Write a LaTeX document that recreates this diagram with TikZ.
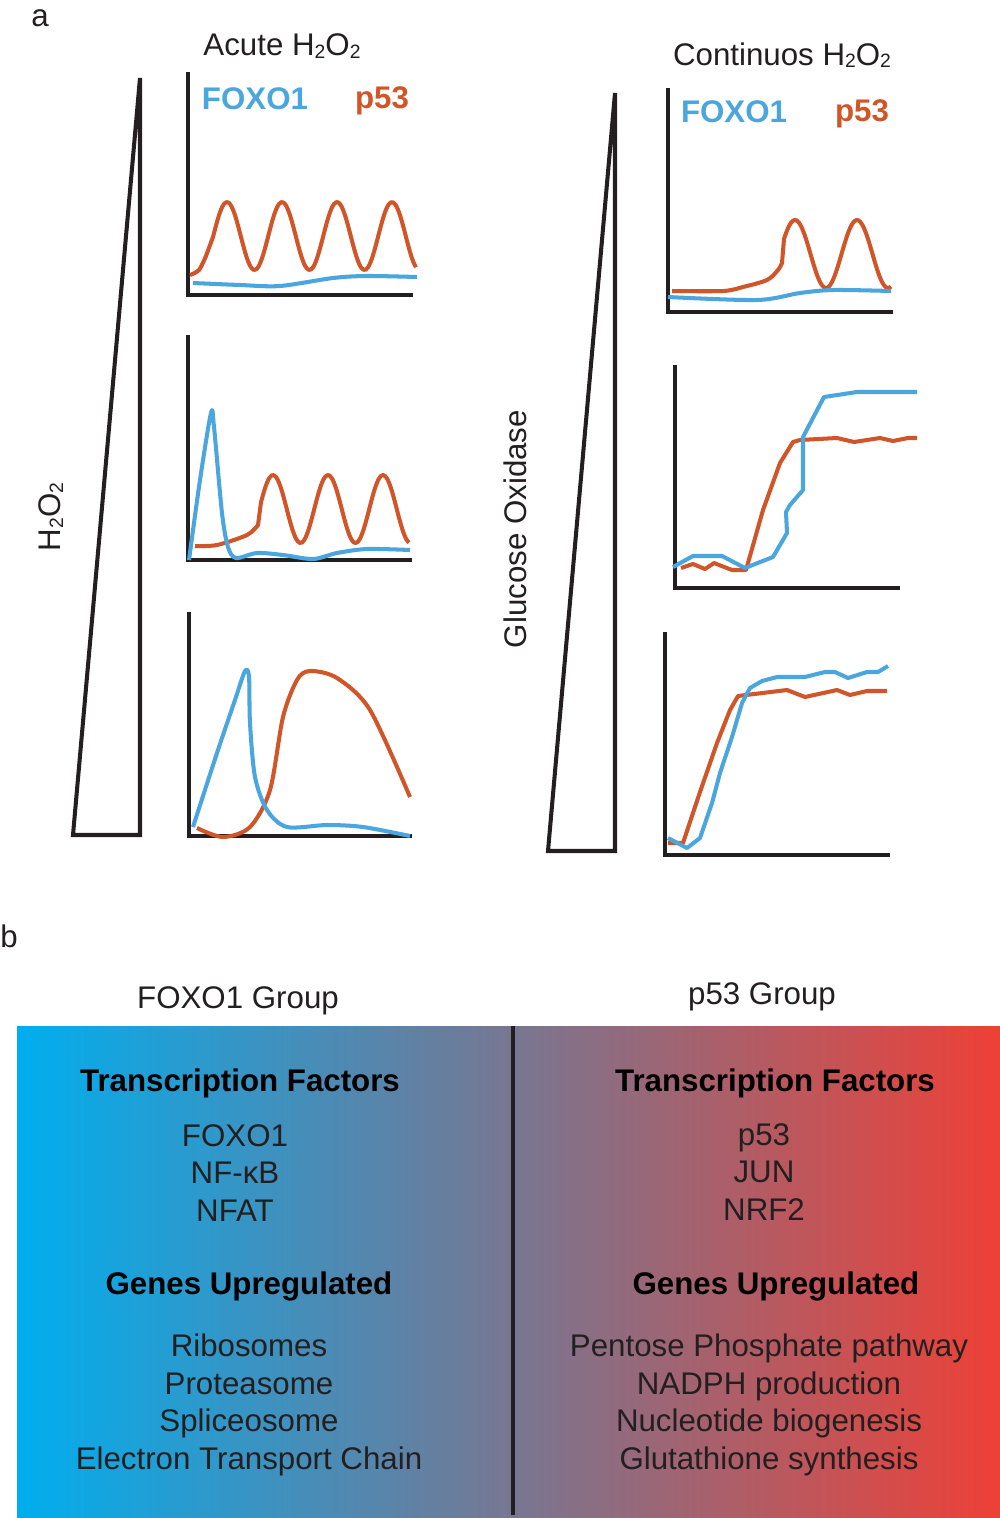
\documentclass[tikz,border=0pt]{standalone}
\usepackage{fontspec}
\setmainfont{Liberation Sans}
\definecolor{foxoblue}{HTML}{4BA6DD}
\definecolor{pred}{HTML}{D05528}
\definecolor{gradleft}{HTML}{00AEEF}
\definecolor{gradright}{HTML}{EE4036}
\definecolor{inkgray}{HTML}{231F20}
\newcommand{\figfont}{\fontsize{17.8}{21.3}\selectfont}
\newcommand{\lowtwo}{\raisebox{-0.15ex}{\fontsize{11}{11}\selectfont 2}}
\tikzset{
    axisline/.style={line width=2.3pt, inkgray, line join=miter},
    wedge/.style={line width=2.3pt, inkgray},
    foxocurve/.style={line width=2.3pt, foxoblue, line join=round},
    pcurve/.style={line width=2.3pt, pred, line join=round},
    foxolbl/.style={text=foxoblue, font=\figfont\bfseries},
    plbl/.style={text=pred, font=\figfont\bfseries},
    plainlbl/.style={text=inkgray, font=\figfont},
    headlbl/.style={text=black, font=\figfont\bfseries},
    listlbl/.style={text=inkgray, font=\figfont, align=center}
}
\begin{document}
\begin{tikzpicture}[x=0.02cm, y=-0.02cm]
    \useasboundingbox (0,0) rectangle (1000,1518);

    \node[plainlbl] (lbla) at (40,18) {a};
    \node[plainlbl] (lblb) at (9,936) {b};

    % acute panel
    \node[plainlbl] (acute) at (282,46) {Acute H\lowtwo O\lowtwo};
    \draw[wedge] (73,835) -- (140,78) -- (140,835) -- cycle;
    \node[plainlbl, rotate=90] (hydro) at (51,517) {H\lowtwo O\lowtwo};

    \draw[axisline] (188,72) -- (188,295) -- (413,295);
    \node[foxolbl] (foxoA) at (255,99) {FOXO1};
    \node[plbl] (pA) at (382,101) {p53};
    \draw[pcurve] plot[smooth] coordinates {(190,275) (199,270) (206,256)}
        -- plot[domain=213:416, samples=90, smooth] (\x,{236-34*cos((\x-227)*6.5455)});
    \draw[foxocurve] plot[smooth] coordinates {(193,283) (240,285) (280,286) (333,278)
        (367,276) (417,277)};

    \draw[axisline] (188,335) -- (188,560) -- (412,560);
    \draw[pcurve] plot[smooth] coordinates {(195,546) (217,545) (247,535) (258,525)}
        -- plot[domain=261:409, samples=70, smooth] (\x,{509-34*cos((\x-273)*6.5455)});
    \draw[foxocurve] plot[smooth, tension=0.5] coordinates {(189,560) (200,480) (211,413)
        (214,427) (222,513) (228,547) (236,558) (257,553) (283,555) (313,559) (337,553)
        (367,549) (410,550)};

    \draw[axisline] (189,612) -- (189,836) -- (412,836);
    \draw[pcurve] plot[smooth] coordinates {(197,828) (223,837) (250,827) (270,790)
        (283,717) (297,680) (310,671) (337,678) (370,710) (410,797)};
    \draw[foxocurve] plot[smooth, tension=0.5] coordinates {(193,827) (217,753) (235,700)
        (245,671) (249,677) (250,723) (255,777) (267,810) (287,827) (327,825) (363,827)
        (410,836)};

    % continuous panel
    \node[plainlbl] (contin) at (782,55) {Continuos H\lowtwo O\lowtwo};
    \draw[wedge] (548,851) -- (615,93) -- (615,851) -- cycle;
    \node[plainlbl, rotate=90] (gox) at (515,529) {Glucose Oxidase};

    \draw[axisline] (668,88) -- (668,312) -- (893,312);
    \node[foxolbl] (foxoC) at (734,112) {FOXO1};
    \node[plbl] (pC) at (862,114) {p53};
    \draw[pcurve] plot[smooth] coordinates {(672,291) (723,291) (743,287) (767,280)
        (778,270) (782,263)}
        -- plot[domain=784:891, samples=60, smooth] (\x,{254-34*cos((\x-795)*5.8065)});
    \draw[foxocurve] plot[smooth] coordinates {(668,297) (757,300) (800,293) (833,290)
        (891,291)};

    \draw[axisline] (675,365) -- (675,588) -- (900,588);
    \draw[pcurve] (681,568) -- (693,564) -- (705,569) -- (714,563) -- (732,570)
        -- (746,570) -- (763,510) -- (780,463) -- (793,442) -- (800,440) -- (837,438)
        -- (854,442) -- (880,438) -- (893,441) -- (908,438) -- (917,438);
    \draw[foxocurve] (673,567) -- (693,556) -- (722,556) -- (745,568) -- (773,557)
        -- (787,533) -- (786,512) -- (790,505) -- (803,490) -- (803,437) -- (824,397)
        -- (857,392) -- (917,392);

    \draw[axisline] (665,632) -- (665,855) -- (890,855);
    \draw[pcurve] (668,843) -- (683,843) -- (700,792) -- (717,743) -- (730,710)
        -- (738,696) -- (787,690) -- (805,697) -- (837,690) -- (850,695) -- (867,691)
        -- (887,691);
    \draw[foxocurve] (668,838) -- (687,848) -- (700,838) -- (712,803) -- (720,773)
        -- (732,737) -- (742,703) -- (750,688) -- (762,681) -- (777,677) -- (805,677)
        -- (825,672) -- (835,672) -- (848,678) -- (867,672) -- (878,672) -- (888,666);

    % groups
    \node[plainlbl] (foxogrp) at (238,1001) {FOXO1 Group};
    \node[plainlbl] (pgrp) at (762,997) {p53 Group};
    \shade[left color=gradleft, right color=gradright] (17,1026) rectangle (1000,1518);
    \draw[line width=1.8pt, inkgray] (513,1026) -- (513,1515);

    \node[headlbl] (tfL) at (240,1083) {Transcription Factors};
    \node[listlbl] (tfListL) at (235,1173) {FOXO1\\NF-κB\\NFAT};
    \node[headlbl] (guL) at (249,1286) {Genes Upregulated};
    \node[listlbl] (guListL) at (249,1405) {Ribosomes\\Proteasome\\Spliceosome\\Electron Transport Chain};

    \node[headlbl] (tfR) at (775,1083) {Transcription Factors};
    \node[listlbl] (tfListR) at (764,1172) {p53\\JUN\\NRF2};
    \node[headlbl] (guR) at (776,1286) {Genes Upregulated};
    \node[listlbl] (guListR) at (769,1405) {Pentose Phosphate pathway\\NADPH production\\Nucleotide biogenesis\\Glutathione synthesis};
\end{tikzpicture}
\end{document}
